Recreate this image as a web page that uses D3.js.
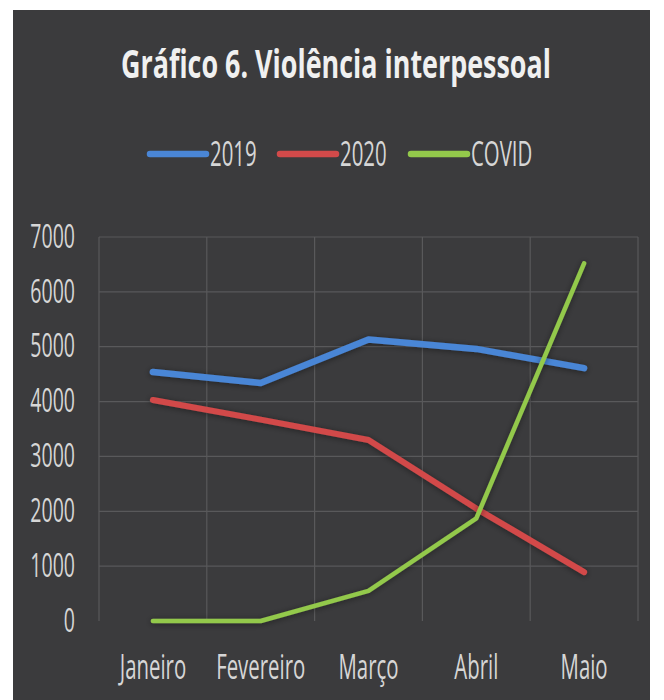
<!DOCTYPE html>
<html>
<head>
<meta charset="utf-8">
<script src="https://cdn.jsdelivr.net/npm/d3@7"></script>
<style>
  body { margin: 0; background: #fff; }
  svg { display: block; }
</style>
</head>
<body>
<svg id="chart" width="664" height="700"></svg>
<script>
// data
var months = ["Janeiro", "Fevereiro", "Março", "Abril", "Maio"];
var v2019 = [4540, 4340, 5130, 4960, 4610];
var v2020 = [4030, 3670, 3300, 2050, 890];
var vCovid = [0, 0, 550, 1870, 6520];
var yTicks = [0, 1000, 2000, 3000, 4000, 5000, 6000, 7000];
var seriesNames = ["2019", "2020", "COVID"];

var series = [
    { name: seriesNames[0], values: v2019, color: "#4a86d6", width: 6.5 },
    { name: seriesNames[1], values: v2020, color: "#d24a4a", width: 6 },
    { name: seriesNames[2], values: vCovid, color: "#93c94b", width: 4.5 }
];

const width = 664, height = 700;
const margin = {top: 237, right: 26, bottom: 78, left: 99};

var svg = d3.select('#chart');

// squeeze text horizontally (the original uses a narrow font)
function squish(sel, k) {
    sel.each(function() {
        var t = d3.select(this);
        var x0 = +t.attr("x") || 0;
        t.attr("x", x0 / k).attr("transform", `scale(${k},1)`);
    });
}

var defs = svg.append("defs");
defs.append("filter").attr("id", "shadow")
    .attr("x", "-20%").attr("y", "-20%").attr("width", "140%").attr("height", "140%")
    .append("feDropShadow")
    .attr("dx", 0).attr("dy", 1).attr("stdDeviation", 3)
    .attr("flood-color", "#000").attr("flood-opacity", 0.45);

svg.append("rect")
    .attr("x", 13).attr("y", 10).attr("width", 637).attr("height", 690)
    .attr("fill", "#3b3b3d");

const x = d3.scaleBand()
    .domain(months)
    .range([margin.left, width - margin.right]);

const y = d3.scaleLinear()
    .domain([0, 7000])
    .range([height - margin.bottom - 1, margin.top]);

// grid
var grid = svg.append("g").attr("stroke", "#59595b").attr("stroke-width", 1.2);
grid.selectAll("line.h")
    .data(yTicks.filter(d => d > 0))
    .join("line")
    .attr("x1", margin.left).attr("x2", width - margin.right)
    .attr("y1", d => y(d)).attr("y2", d => y(d));
grid.selectAll("line.v")
    .data(months.map(m => x(m)).concat([x.range()[1]]))
    .join("line")
    .attr("x1", d => d).attr("x2", d => d)
    .attr("y1", y(7000)).attr("y2", y(0));

// y axis
var yAxis = svg.append("g")
    .attr("transform", `translate(${margin.left},0)`)
    .call(d3.axisLeft(y).tickValues(yTicks).tickSize(0).tickPadding(24).tickFormat(d3.format("d")));
yAxis.select(".domain").remove();
yAxis.selectAll("text")
    .attr("fill", "#d6d6d6")
    .style("font-family", "'Open Sans', sans-serif")
    .style("font-size", "32px")
    .call(squish, 0.61);

// x axis
var xAxis = svg.append("g")
    .attr("transform", `translate(0,${y(0)})`)
    .call(d3.axisBottom(x).tickSize(0).tickPadding(34));
xAxis.select(".domain").remove();
xAxis.selectAll("text")
    .attr("fill", "#d6d6d6")
    .style("font-family", "'Open Sans', sans-serif")
    .style("font-size", "34px")
    .call(squish, 0.6);

// lines
const line = d3.line()
    .x((d, i) => x(months[i]) + x.bandwidth() / 2)
    .y(d => y(d));

svg.append("g")
    .selectAll("path")
    .data(series)
    .join("path")
    .attr("fill", "none")
    .attr("stroke", d => d.color)
    .attr("stroke-width", d => d.width)
    .attr("stroke-linecap", "round")
    .attr("stroke-linejoin", "round")
    .attr("filter", "url(#shadow)")
    .attr("d", d => line(d.values));

// title
svg.append("text")
    .attr("x", 336).attr("y", 78)
    .attr("text-anchor", "middle")
    .attr("fill", "#f0f0f0")
    .style("font-family", "'Open Sans', sans-serif")
    .style("font-weight", "bold")
    .style("font-size", "39px")
    .text("Gráfico 6. Violência interpessoal")
    .call(squish, 0.69);

// legend
var legendX = [150, 280, 411];
var legend = svg.append("g")
    .selectAll("g")
    .data(series)
    .join("g")
    .attr("transform", (d, i) => `translate(${legendX[i]},154)`);
legend.append("line")
    .attr("x1", 0).attr("x2", 56)
    .attr("stroke", d => d.color)
    .attr("stroke-width", 6.5)
    .attr("stroke-linecap", "round");
legend.append("text")
    .attr("x", 60).attr("y", 12)
    .attr("fill", "#d6d6d6")
    .style("font-family", "'Open Sans', sans-serif")
    .style("font-size", "34px")
    .text(d => d.name)
    .call(squish, 0.6);
</script>
</body>
</html>
